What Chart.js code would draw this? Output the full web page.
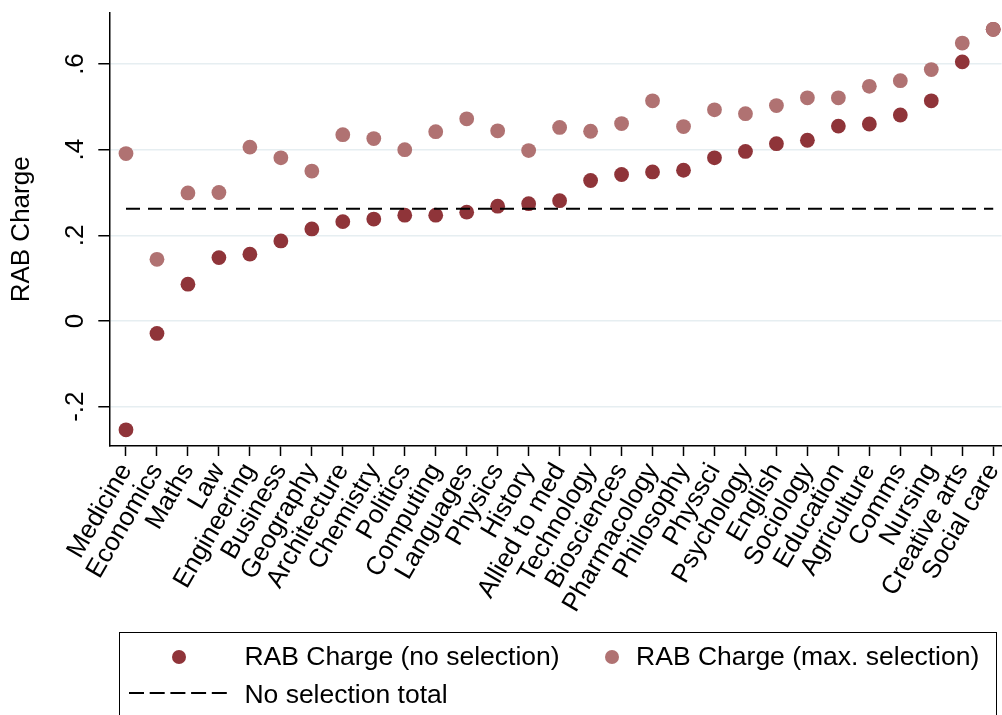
<!DOCTYPE html>
<html>
<head>
<meta charset="utf-8">
<script src="https://cdn.jsdelivr.net/npm/chart.js@4/dist/chart.umd.min.js"></script>
<style>
  html, body { margin: 0; padding: 0; background: #fff; }
  #wrap { position: relative; width: 1002px; height: 715px; overflow: hidden; font-family: 'Liberation Sans', Arial, sans-serif; }
  #wrap canvas { position: absolute; left: 0; top: 0; }
  .legend { position: absolute; left: 119px; top: 632px; width: 876px; height: 120px; border: 1.6px solid #000; }
  .lg-dot { position: absolute; width: 14px; height: 14px; border-radius: 50%; }
  .lg-txt { position: absolute; font-size: 26.5px; line-height: 30px; color: #000; white-space: nowrap; }
  .lg-line { position: absolute; }
</style>
</head>
<body>
<div id="wrap">
  <!-- canvas un peu plus large que la page : Chart.js garde une marge à droite pour la dernière étiquette -->
  <canvas id="chart" width="1009" height="715"></canvas>
  <div class="legend" id="legend"></div>
</div>
<script>
/* ===== DATA ===== */
const categories = ['Medicine','Economics','Maths','Law','Engineering','Business','Geography','Architecture','Chemistry','Politics','Computing','Languages','Physics','History','Allied to med','Technology','Biosciences','Pharmacology','Philosophy','Physsci','Psychology','English','Sociology','Education','Agriculture','Comms','Nursing','Creative arts','Social care'];
const noSelection  = [-0.254,-0.029,0.086,0.148,0.156,0.187,0.215,0.232,0.238,0.247,0.247,0.254,0.268,0.274,0.281,0.328,0.342,0.348,0.352,0.381,0.396,0.414,0.422,0.455,0.460,0.481,0.514,0.605,0.681];
const maxSelection = [0.391,0.144,0.299,0.300,0.406,0.381,0.350,0.435,0.426,0.400,0.442,0.472,0.444,0.398,0.452,0.443,0.461,0.514,0.454,0.493,0.484,0.503,0.521,0.521,0.548,0.561,0.587,0.649,0.681];
const noSelectionTotal = 0.262;
const yTickValues = [-0.2, 0, 0.2, 0.4, 0.6];
const yTickLabels = ['-.2', '0', '.2', '.4', '.6'];

const DARK = '#8F3439', LIGHT = '#B07272', GRID = '#E6EEF1';
const FONT = "'Liberation Sans', Arial, sans-serif";

/* ===== CHART ===== */
const toPoints = arr => arr.map((v, i) => ({ x: i, y: v }));
const last = categories.length - 1;

// pas de marge automatique : la zone du graphique est fixée à la main
function noPadding(axis){
  axis.paddingLeft = 0; axis.paddingRight = 0;
  axis.paddingTop = 0; axis.paddingBottom = 0;
}

new Chart(document.getElementById('chart'), {
  type: 'scatter',
  data: {
    datasets: [
      {
        // premier dans la liste = dessiné au-dessus des points
        label: 'No selection total',
        type: 'line',
        data: [{ x: 0, y: noSelectionTotal }, { x: last, y: noSelectionTotal }],
        borderColor: '#000', borderWidth: 2, borderDash: [14, 8],
        pointRadius: 0, fill: false
      },
      {
        label: 'RAB Charge (max. selection)',
        data: toPoints(maxSelection),
        backgroundColor: LIGHT, borderWidth: 0, pointRadius: 7.4, pointHoverRadius: 7.4
      },
      {
        label: 'RAB Charge (no selection)',
        data: toPoints(noSelection),
        backgroundColor: DARK, borderWidth: 0, pointRadius: 7.4, pointHoverRadius: 7.4
      }
    ]
  },
  options: {
    responsive: false, animation: false,
    layout: { padding: { top: 12.7, left: 0, right: 0, bottom: 0 } },
    plugins: { legend: { display: false }, tooltip: { enabled: false } },
    scales: {
      x: {
        type: 'linear', min: -0.539, max: 28.27,
        afterBuildTicks: axis => { axis.ticks = categories.map((c, i) => ({ value: i })); },
        afterFit: axis => { axis.height = 269; noPadding(axis); },
        ticks: {
          autoSkip: false, minRotation: 60, maxRotation: 60, padding: 2,
          color: '#000', font: { family: FONT, size: 26 },
          callback: v => categories[v]
        },
        grid: { drawOnChartArea: false, drawTicks: true, tickLength: 10, tickColor: '#000', tickWidth: 1.5 },
        border: { display: true, color: '#000', width: 1.5 }
      },
      y: {
        min: -0.2918, max: 0.7198,
        afterBuildTicks: axis => { axis.ticks = yTickValues.map(v => ({ value: v })); },
        afterFit: axis => { axis.width = 109.3; noPadding(axis); },
        ticks: {
          minRotation: 90, maxRotation: 90, crossAlign: 'center', padding: 7,
          color: '#000', font: { family: FONT, size: 26 },
          callback: v => yTickLabels[yTickValues.indexOf(v)]
        },
        grid: { color: GRID, lineWidth: 1.5, tickLength: 11, tickColor: '#000', tickWidth: 1.5 },
        border: { display: true, color: '#000', width: 1.5 },
        title: {
          display: true, text: 'RAB Charge', color: '#000',
          font: { family: FONT, size: 26 }, padding: { top: 6.6, bottom: 0 }
        }
      }
    }
  }
});

/* ===== LEGENDE ===== */
(function(){
  const box = document.getElementById('legend');
  const ox = 119 + 1.6, oy = 632 + 1.6; // coordonnées relatives à l'intérieur du cadre
  function dot(cx, cy, color){
    const d = document.createElement('div');
    d.className = 'lg-dot';
    d.style.left = (cx - 7 - ox) + 'px';
    d.style.top = (cy - 7 - oy) + 'px';
    d.style.background = color;
    box.appendChild(d);
  }
  function txt(x, top, s){
    const t = document.createElement('div');
    t.className = 'lg-txt';
    t.style.left = (x - ox) + 'px';
    t.style.top = (top - oy) + 'px';
    t.textContent = s;
    box.appendChild(t);
  }
  dot(179.3, 657.3, DARK);
  txt(245, 641.5, 'RAB Charge (no selection)');
  dot(612.3, 657.3, LIGHT);
  txt(636.7, 641.5, 'RAB Charge (max. selection)');

  const svg = document.createElementNS('http://www.w3.org/2000/svg', 'svg');
  svg.setAttribute('class', 'lg-line');
  svg.setAttribute('width', '104');
  svg.setAttribute('height', '6');
  svg.style.left = (128 - ox) + 'px';
  svg.style.top = (694 - 3 - oy) + 'px';
  svg.innerHTML = '<line x1="2" y1="3" x2="100" y2="3" stroke="#000" stroke-width="2" stroke-dasharray="15 5.7"/>';
  box.appendChild(svg);
  txt(245, 679.5, 'No selection total');
})();
</script>
</body>
</html>
